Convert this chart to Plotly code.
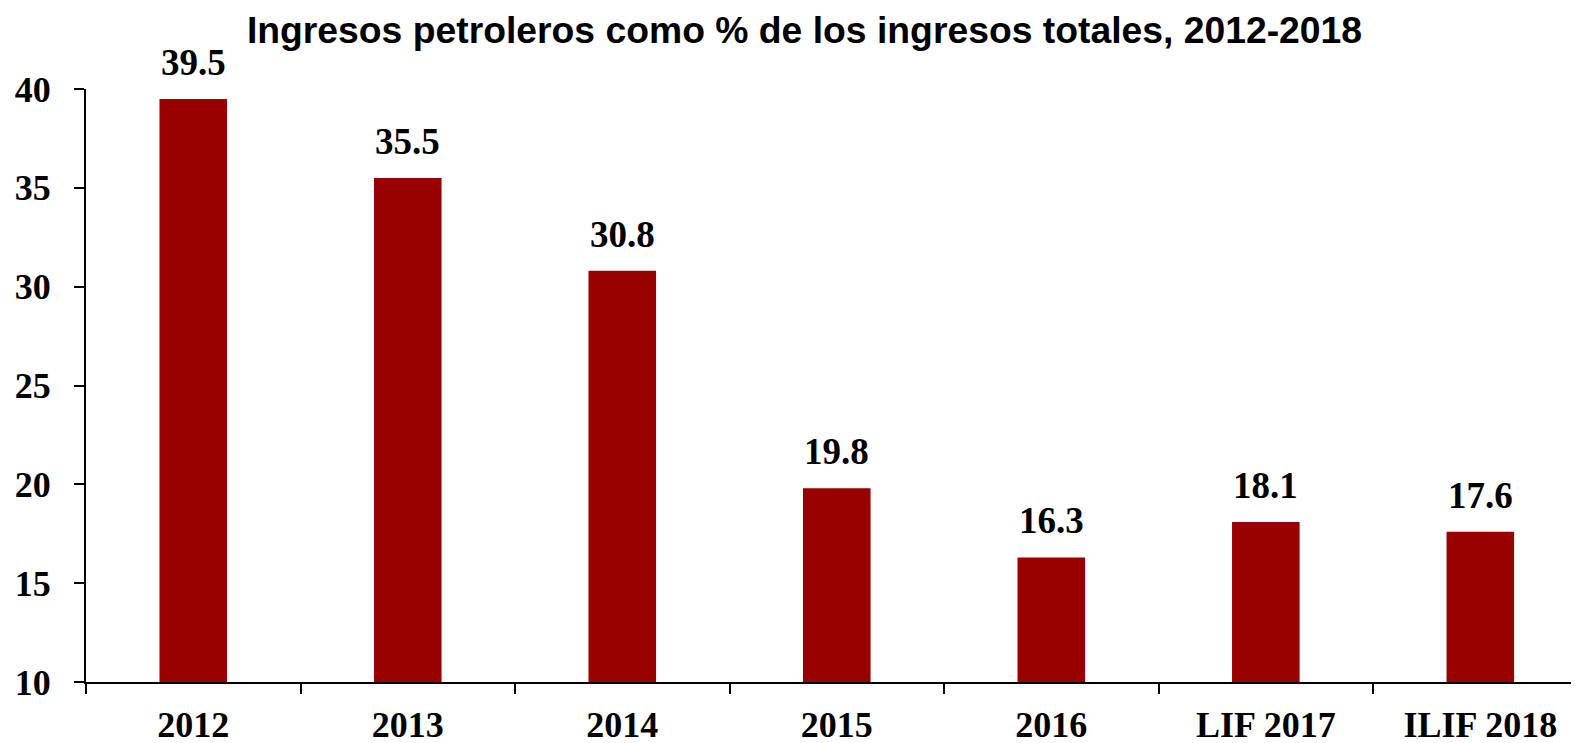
import plotly.graph_objects as go

# Datos
categorias = ["2012", "2013", "2014", "2015", "2016", "LIF 2017", "ILIF 2018"]
valores = [39.5, 35.5, 30.8, 19.8, 16.3, 18.1, 17.6]
etiquetas = ["39.5", "35.5", "30.8", "19.8", "16.3", "18.1", "17.6"]
ticks_y = [10, 15, 20, 25, 30, 35, 40]

serif = "Liberation Serif, Times New Roman, serif"

fig = go.Figure()
fig.add_trace(go.Bar(
    x=categorias,
    y=valores,
    marker=dict(color="#990000", line=dict(width=0)),
))

# etiquetas de valor sobre cada barra (x = posición de la categoría)
for i, (v, t) in enumerate(zip(valores, etiquetas)):
    fig.add_annotation(
        x=i, y=v, text=t, showarrow=False,
        yanchor="bottom", yshift=14,
        font=dict(family=serif, size=37, color="black", weight="bold"),
    )

fig.update_layout(
    width=1571,
    height=735,
    paper_bgcolor="white",
    plot_bgcolor="white",
    bargap=0.685,
    showlegend=False,
    margin=dict(l=78, r=0, t=81, b=61),
    title=dict(
        text="Ingresos petroleros como % de los ingresos totales, 2012-2018",
        x=0.507, xanchor="center",
        y=0.97, yanchor="middle",
        font=dict(family="Liberation Sans, Arial, sans-serif", size=37.3,
                  color="black", weight="bold"),
    ),
    font=dict(family=serif, color="black"),
)

# el eje del original se corta un poco antes del final de la última categoría
fig.update_xaxes(
    type="category", tickangle=0,
    range=[-0.5, len(categorias) - 0.54],
    showline=True, linecolor="black", linewidth=2,
    ticks="outside", tickson="boundaries", ticklen=10, tickwidth=2, tickcolor="black",
    tickfont=dict(family=serif, size=36, color="black", weight="bold"),
    ticklabelstandoff=10,
    showgrid=False, automargin=False,
)
fig.update_yaxes(
    range=[10, 40],
    tickvals=ticks_y,
    showline=True, linecolor="black", linewidth=2,
    ticks="outside", ticklen=10, tickwidth=2, tickcolor="black",
    tickfont=dict(family=serif, size=36, color="black", weight="bold"),
    ticklabelstandoff=16,
    showgrid=False, zeroline=False, automargin=False,
)

fig.write_html("out.html")
